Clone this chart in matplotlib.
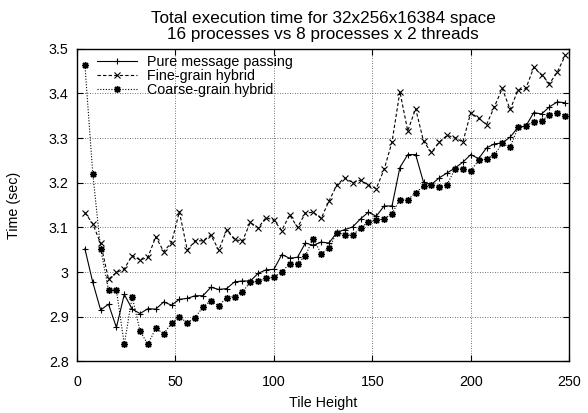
import matplotlib
matplotlib.use("Agg")
from matplotlib import pyplot as plt
from matplotlib.ticker import FuncFormatter

plt.rcParams['font.family'] = ['Liberation Sans', 'DejaVu Sans']
plt.rcParams['font.size'] = 10.3

tile_height = [4, 8, 12, 16, 20, 24, 28, 32, 36, 40, 44, 48, 52, 56, 60, 64,
               68, 72, 76, 80, 84, 88, 92, 96, 100, 104, 108, 112, 116, 120,
               124, 128, 132, 136, 140, 144, 148, 152, 156, 160, 164, 168,
               172, 176, 180, 184, 188, 192, 196, 200, 204, 208, 212, 216,
               220, 224, 228, 232, 236, 240, 244, 248]

pure_mp = [3.052, 2.977, 2.915, 2.928, 2.876, 2.950, 2.917, 2.907, 2.918, 2.917,
           2.933, 2.926, 2.939, 2.941, 2.947, 2.947, 2.966, 2.961, 2.963, 2.978,
           2.980, 2.980, 2.997, 3.005, 3.006, 3.039, 3.031, 3.033, 3.065, 3.060,
           3.067, 3.065, 3.089, 3.095, 3.101, 3.119, 3.134, 3.125, 3.148, 3.148,
           3.234, 3.263, 3.263, 3.201, 3.196, 3.211, 3.222, 3.233, 3.246, 3.263,
           3.254, 3.278, 3.287, 3.289, 3.302, 3.324, 3.327, 3.357, 3.354, 3.370,
           3.381, 3.379]

fine_hybrid = [3.133, 3.108, 3.064, 2.984, 2.999, 3.007, 3.037, 3.027, 3.033, 3.079,
               3.046, 3.066, 3.135, 3.049, 3.070, 3.070, 3.083, 3.049, 3.094, 3.073,
               3.069, 3.111, 3.099, 3.122, 3.116, 3.093, 3.128, 3.100, 3.132, 3.134,
               3.120, 3.159, 3.195, 3.211, 3.200, 3.206, 3.194, 3.187, 3.230, 3.291,
               3.404, 3.316, 3.366, 3.293, 3.268, 3.291, 3.306, 3.301, 3.291, 3.357,
               3.344, 3.330, 3.370, 3.411, 3.364, 3.407, 3.411, 3.458, 3.441, 3.422,
               3.448, 3.485]

coarse_hybrid = [3.464, 3.220, 3.052, 2.960, 2.960, 2.838, 2.945, 2.868, 2.838, 2.874,
                 2.862, 2.885, 2.900, 2.886, 2.898, 2.922, 2.936, 2.924, 2.943, 2.945,
                 2.956, 2.977, 2.979, 2.986, 2.988, 3.001, 3.018, 3.018, 3.037, 3.075,
                 3.041, 3.054, 3.088, 3.084, 3.082, 3.099, 3.112, 3.116, 3.119, 3.131,
                 3.162, 3.162, 3.178, 3.192, 3.196, 3.190, 3.196, 3.231, 3.231, 3.227,
                 3.250, 3.253, 3.263, 3.288, 3.279, 3.324, 3.327, 3.337, 3.339, 3.352,
                 3.357, 3.350]

fig = plt.figure(figsize=(5.88, 4.13), dpi=100)
ax = fig.add_axes([0.131, 0.125, 0.837, 0.757])

ax.plot(tile_height, pure_mp, color='black', lw=0.8, ls='-',
        marker='+', ms=5, mew=0.8, label='Pure message passing')
ax.plot(tile_height, fine_hybrid, color='black', lw=0.8, ls=(0, (3, 2)),
        marker='x', ms=4, mew=0.8, label='Fine-grain hybrid')
ax.plot(tile_height, coarse_hybrid, color='black', lw=0.8, ls=(0, (1, 1.5)),
        marker=(8, 2, 0), ms=5, mew=1.0, label='Coarse-grain hybrid')

ax.set_xlim(0, 250)
ax.set_ylim(2.8, 3.5)
ax.set_xticks([0, 50, 100, 150, 200, 250])
ax.set_yticks([2.8, 2.9, 3.0, 3.1, 3.2, 3.3, 3.4, 3.5])
ax.yaxis.set_major_formatter(FuncFormatter(lambda v, p: '%g' % round(v, 2)))
ax.tick_params(direction='in', top=True, right=True, length=4, width=0.8)
ax.tick_params(axis='x', pad=10)
ax.tick_params(axis='y', pad=6)
ax.grid(True, color='#444444', ls=(0, (1, 2)), lw=0.6)
for s in ax.spines.values():
    s.set_linewidth(1.0)

ax.set_xlabel('Tile Height', labelpad=5)
ax.set_ylabel('Time (sec)', labelpad=20)
ax.set_title('Total execution time for 32x256x16384 space\n'
             '16 processes vs 8 processes x 2 threads',
             linespacing=1.1, pad=7)

# gnuplot style key, tight rows
leg = ax.legend(loc='upper left', frameon=False, handlelength=2.8,
                borderaxespad=0.0, borderpad=0.4, labelspacing=0.0,
                handletextpad=0.75, bbox_to_anchor=(0.028, 0.997))
leg.set_zorder(5)

fig.savefig('out.png', dpi=100)
